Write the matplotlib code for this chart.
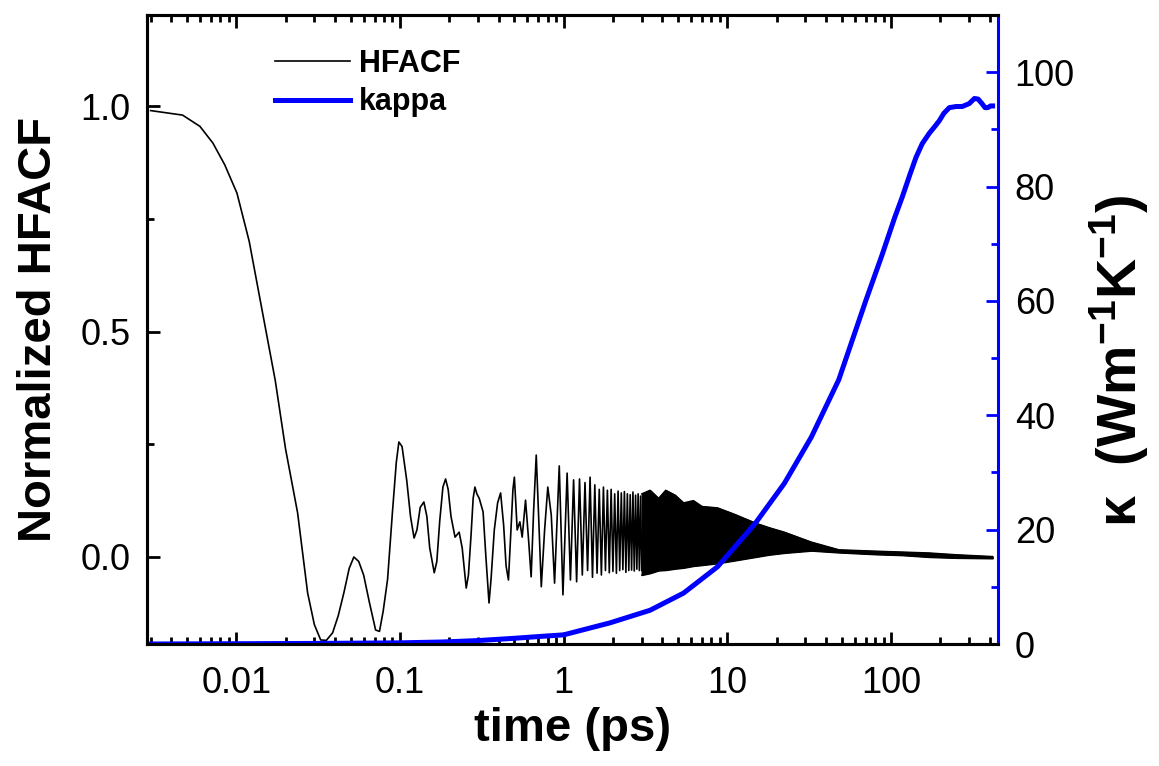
# HFACF and thermal conductivity vs correlation time
# dual-axis plot (log time axis)

import numpy as np
import matplotlib.pyplot as plt
from matplotlib.ticker import LogLocator, MultipleLocator, FixedLocator, NullFormatter

plt.rcParams['font.family'] = ['Liberation Sans', 'DejaVu Sans']
plt.rcParams['mathtext.default'] = 'regular'

# HFACF, resolved part (ps, normalized)
t_acf = [0.003, 0.0047, 0.006, 0.0072, 0.0085, 0.0101, 0.012, 0.014, 0.0173, 0.020,
         0.0237, 0.0273, 0.030, 0.0328, 0.0355, 0.0388, 0.042, 0.0454, 0.049, 0.0523,
         0.056, 0.060, 0.065, 0.071, 0.075, 0.079, 0.084, 0.090, 0.095, 0.0985,
         0.103, 0.110, 0.116, 0.122, 0.127, 0.133, 0.140, 0.146, 0.152, 0.162,
         0.168, 0.175, 0.183, 0.190, 0.197, 0.205, 0.217, 0.230, 0.240, 0.254,
         0.262, 0.272, 0.280, 0.287, 0.295, 0.305, 0.322, 0.335, 0.350, 0.360,
         0.377, 0.395, 0.412, 0.430, 0.445, 0.460, 0.475, 0.490, 0.500, 0.510,
         0.520, 0.540, 0.558, 0.585, 0.610, 0.633, 0.655, 0.680, 0.705, 0.730,
         0.765, 0.800, 0.840, 0.880, 0.940, 0.990, 1.05, 1.10, 1.15, 1.20,
         1.25, 1.30, 1.35, 1.40, 1.45, 1.50, 1.55, 1.60, 1.65, 1.70,
         1.75, 1.80, 1.85, 1.90, 1.95, 2.00, 2.05, 2.10, 2.15, 2.20,
         2.25, 2.30, 2.35, 2.40, 2.45, 2.50, 2.55, 2.60, 2.65, 2.70,
         2.75, 2.80, 2.85, 2.90, 2.95, 3.00]
acf = [0.99, 0.98, 0.955, 0.918, 0.87, 0.807, 0.70, 0.57, 0.392, 0.24,
       0.098, -0.08, -0.15, -0.184, -0.185, -0.168, -0.13, -0.08, -0.025, 0.0,
       -0.01, -0.04, -0.10, -0.162, -0.165, -0.12, -0.05, 0.10, 0.21, 0.255,
       0.245, 0.17, 0.09, 0.042, 0.06, 0.11, 0.122, 0.09, 0.02, -0.035,
       -0.01, 0.08, 0.155, 0.173, 0.15, 0.09, 0.044, 0.055, 0.02, -0.069,
       -0.04, 0.05, 0.13, 0.155, 0.14, 0.13, 0.10, 0.0, -0.102, -0.05,
       0.06, 0.12, 0.142, 0.07, -0.02, -0.051, 0.05, 0.15, 0.177, 0.12,
       0.06, 0.078, 0.044, 0.126, 0.04, -0.044, 0.10, 0.226, 0.08, -0.066,
       0.06, 0.155, 0.093, -0.058, 0.202, -0.084, 0.186, -0.051, 0.171, -0.055,
       0.173, -0.040, 0.165, -0.030, 0.177, -0.045, 0.160, -0.036, 0.150, -0.040,
       0.155, -0.030, 0.148, -0.035, 0.150, -0.032, 0.140, -0.036, 0.146, -0.030,
       0.142, -0.028, 0.145, -0.034, 0.140, -0.030, 0.138, -0.029, 0.144, -0.031,
       0.137, -0.027, 0.140, -0.030, 0.135, -0.030]

# HFACF, dense part: envelope of the fast oscillation
t_env = [3.0, 3.37, 3.8, 4.2, 4.8, 5.4, 6.2, 7.0, 8.7, 11.0, 14.9, 18.0, 22.3,
         32.6, 48.0, 80.0, 117.0, 170.0, 250.0, 417.0]
env_hi = [0.14, 0.148, 0.13, 0.148, 0.137, 0.12, 0.125, 0.112, 0.109, 0.095,
          0.075, 0.065, 0.055, 0.033, 0.016, 0.013, 0.011, 0.009, 0.005, 0.001]
env_lo = [-0.040, -0.036, -0.03, -0.029, -0.026, -0.024, -0.02, -0.018, -0.014,
          -0.008, 0.0, 0.005, 0.009, 0.014, 0.010, 0.006, 0.004, 0.0, -0.002, -0.003]

# running thermal conductivity (W m-1 K-1)
t_k = [0.003, 0.01, 0.03, 0.1, 0.18, 0.3, 0.5, 0.7, 1.0, 1.92, 3.37, 5.4, 8.7,
       14.9, 22.3, 32.6, 47.9, 70.0, 88.0, 105.0, 116.8, 130.0, 142.0, 155.0,
       171.0, 185.0, 197.0, 210.0, 227.0, 250.0, 272.0, 300.0, 323.0, 340.0,
       357.0, 375.0, 390.0, 405.0, 417.0]
kappa = [0.0, 0.05, 0.1, 0.2, 0.35, 0.6, 1.0, 1.3, 1.6, 3.7, 5.9, 8.9, 13.5,
         21.2, 28.1, 36.2, 46.2, 60.0, 68.0, 74.5, 78.1, 82.0, 85.1, 87.5,
         89.3, 90.5, 91.5, 92.8, 93.8, 94.0, 94.0, 94.5, 95.4, 95.3,
         94.6, 93.8, 93.8, 94.1, 94.1]

fig = plt.figure(figsize=(11.59, 7.66), dpi=100)
ax = fig.add_axes([147/1159, 1 - 644/766, (998 - 147)/1159, (644 - 15)/766])
ax2 = ax.twinx()

l1, = ax.plot(t_acf, acf, color='black', lw=1.2, label='HFACF')
ax.fill_between(t_env, env_lo, env_hi, color='black', lw=1.0)
ax.plot(t_env, env_hi, color='black', lw=1.0)
ax.plot(t_env, env_lo, color='black', lw=1.0)
l2, = ax2.plot(t_k, kappa, color='#0000ff', lw=3.6, label='kappa')

ax.set_xscale('log')
ax.set_xlim(0.00285, 450)
ax.set_ylim(-0.193, 1.202)
ax2.set_ylim(0, 110)

ax.xaxis.set_major_locator(FixedLocator([0.01, 0.1, 1, 10, 100]))
ax.set_xticklabels(['0.01', '0.1', '1', '10', '100'])
ax.xaxis.set_minor_locator(LogLocator(base=10, subs=np.arange(2, 10), numticks=20))
ax.xaxis.set_minor_formatter(NullFormatter())
ax.yaxis.set_major_locator(FixedLocator([0.0, 0.5, 1.0]))
ax.set_yticklabels(['0.0', '0.5', '1.0'])
ax.yaxis.set_minor_locator(MultipleLocator(0.25))
ax2.yaxis.set_major_locator(MultipleLocator(20))
ax2.yaxis.set_minor_locator(MultipleLocator(10))

ax.tick_params(which='both', direction='in', top=True, right=False, width=2,
               labelsize=26, pad=12)
ax.tick_params(axis='x', pad=16)
ax.tick_params(which='major', length=9)
ax.tick_params(which='minor', length=5)
ax2.tick_params(which='both', direction='in', colors='#0000ff', width=2,
                labelsize=26, labelcolor='black', pad=12)
ax2.tick_params(which='major', length=9)
ax2.tick_params(which='minor', length=5)

for s in ['left', 'bottom', 'top']:
    ax.spines[s].set_linewidth(2.2)
    ax2.spines[s].set_linewidth(2.2)
ax2.spines['right'].set_color('#0000ff')
ax2.spines['right'].set_linewidth(2.2)

ax.set_xlabel('time (ps)', fontsize=34, fontweight='bold', labelpad=4)
ax.set_ylabel('Normalized HFACF', fontsize=34, fontweight='bold', labelpad=14)
ax2.set_ylabel('κ  (Wm$^{-1}$K$^{-1}$)', fontsize=40, fontweight='bold')
ax2.yaxis.set_label_coords(1.105, 0.45)

ax2.legend([l1, l2], ['HFACF', 'kappa'], loc='upper left', frameon=False,
           prop={'size': 22, 'weight': 'bold'}, handlelength=2.45,
           handletextpad=0.3, borderpad=0, borderaxespad=0,
           bbox_to_anchor=(0.150, 0.946), labelspacing=0.27)

plt.savefig('out.png', dpi=100)
